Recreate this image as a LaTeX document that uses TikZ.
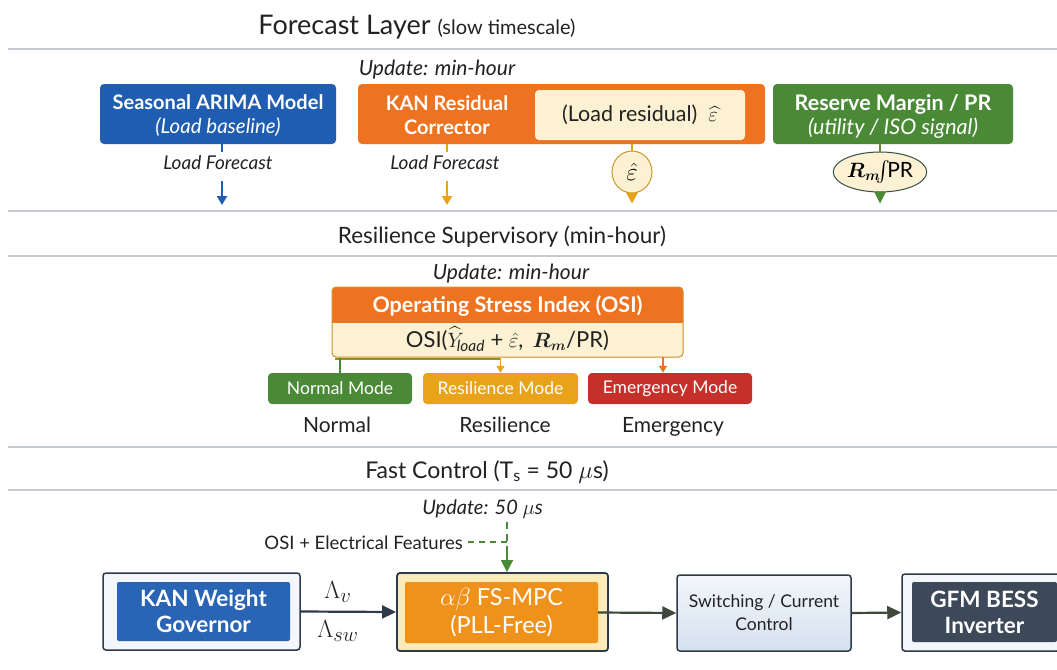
\documentclass[tikz,border=0pt]{standalone}
\usepackage{amsmath}
\usepackage{bm}
\usepackage{fontspec}
\setmainfont{Lato}
\usetikzlibrary{arrows.meta,shapes.geometric,calc}
\definecolor{lineC}{HTML}{C5CAD0}
\definecolor{blueC}{HTML}{1F5DB0}
\definecolor{blueA}{HTML}{2A64B4}
\definecolor{orangeC}{HTML}{EE7320}
\definecolor{greenC}{HTML}{4A8A36}
\definecolor{creamC}{HTML}{FCF1D2}
\definecolor{yellowC}{HTML}{E8A31A}
\definecolor{redC}{HTML}{C6302A}
\definecolor{slateC}{HTML}{3D4858}
\definecolor{darkC}{HTML}{2E3A4A}
\definecolor{mpcC}{HTML}{EE921C}
\definecolor{paleY}{HTML}{FAEBB8}
\definecolor{paleB}{HTML}{F3F6FA}
\definecolor{paleB2}{HTML}{D5E1EF}
\definecolor{ptrY}{HTML}{C99A2C}
\definecolor{txtC}{HTML}{222222}
\tikzset{
  sepline/.style={draw=lineC, line width=1.8pt},
  blk/.style={rounded corners=4pt, inner sep=0pt, align=center, text=white},
  hd/.style={text=txtC, inner sep=0pt, anchor=base},
  bx/.style={text=white, inner sep=0pt, align=center},
  lbl/.style={text=txtC, inner sep=0pt, anchor=base},
  tip/.style={-{Triangle[width=10pt,length=9pt]}, line width=2pt},
  bigtip/.style={-{Triangle[width=13pt,length=14pt]}, line width=2.2pt, draw=darkC},
}
\begin{document}
\begin{tikzpicture}[x=1pt,y=-1pt]
\useasboundingbox (0,0) rectangle (1057,669);
\fill[white] (0,0) rectangle (1057,669);

% ---------------- Forecast layer
\node[hd] (t1) at (417,35) {\fontsize{27}{30}\selectfont Forecast Layer\ \fontsize{20}{22}\selectfont(slow timescale)};
\coordinate (l1a) at (8,49); \coordinate (l1b) at (1057,49);
\draw[sepline] (l1a) -- (l1b);
\node[lbl, font=\itshape\fontsize{21}{22}\selectfont] (u1) at (437,75) {Update: min-hour};

\node[blk, fill=blueC, minimum width=236pt, minimum height=60pt] (arima) at (218,114) {};
\node[bx, font=\fontsize{20}{24}\selectfont] (arimat) at (218,116) {{\bfseries Seasonal ARIMA Model}\\{\itshape\fontsize{20.5}{24}\selectfont (Load baseline)}};

\node[blk, fill=orangeC, minimum width=407pt, minimum height=60pt] (kan) at (561.5,114) {};
\node[bx, font=\bfseries\fontsize{20}{24}\selectfont] (kant) at (447,115) {KAN Residual\\Corrector};
\node[blk, fill=creamC, minimum width=210pt, minimum height=50pt, text=txtC] (res) at (640,115) {\fontsize{21.5}{24}\selectfont (Load residual)\ \ $\widehat{\varepsilon}$};

\node[blk, fill=greenC, minimum width=240pt, minimum height=60pt] (rm) at (893,114) {};
\node[bx, font=\fontsize{21.5}{24}\selectfont] (rmt) at (893,116) {{\bfseries Reserve Margin / PR}\\{\itshape\fontsize{21.5}{24}\selectfont (utility / ISO signal)}};

% Load forecast outputs
\node[lbl, font=\itshape\fontsize{19}{20}\selectfont] (lf1) at (218,169) {Load Forecast};
\node[lbl, font=\itshape\fontsize{19}{20}\selectfont] (lf2) at (445,169) {Load Forecast};
\draw[blueC, line width=1.8pt] ($(arima.south)+(4,0)$) -- ($(arima.south)+(4,8)$);
\coordinate (a1s) at (222,181); \coordinate (a1e) at (222,205);
\draw[tip, blueC] (a1s) -- (a1e);
\coordinate (k1) at (447,144); \coordinate (k2) at (447,152);
\draw[yellowC, line width=1.8pt] (k1) -- (k2);
\coordinate (a2s) at (447,181); \coordinate (a2e) at (447,205);
\draw[tip, yellowC] (a2s) -- (a2e);

% epsilon pointer
\node[ellipse, draw=ptrY, line width=1pt, fill=creamC, minimum width=40pt, minimum height=42pt, inner sep=0pt] (ep) at (632,172) {\fontsize{26}{28}\selectfont$\hat{\varepsilon}$};
\draw[yellowC, line width=1.8pt] (kan.south -| ep) -- (ep.north);
\fill[yellowC] ($(ep.south)+(-6,-1)$) -- ($(ep.south)+(6,-1)$) -- ($(ep.south)+(0,10)$) -- cycle;

% Rm pointer
\node[ellipse, draw=darkC!70!greenC, line width=1pt, fill=creamC, minimum width=86pt, minimum height=40pt, inner sep=0pt] (rp) at (880,172) {\fontsize{21}{22}\selectfont$\bm{R_m}\!\!\int\!$PR};
\draw[greenC!80!yellowC, line width=1.8pt] (rm.south -| rp) -- (rp.north);
\fill[greenC] ($(rp.south)+(-6,-1)$) -- ($(rp.south)+(6,-1)$) -- ($(rp.south)+(0,11)$) -- cycle;

\coordinate (l2a) at (8,211); \coordinate (l2b) at (1057,211);
\draw[sepline] (l2a) -- (l2b);

% ---------------- Resilience supervisory
\node[hd, font=\fontsize{22.5}{24}\selectfont] (t2) at (502,243) {Resilience Supervisory (min-hour)};
\coordinate (l3a) at (8,256); \coordinate (l3b) at (1057,256);
\draw[sepline] (l3a) -- (l3b);
\node[lbl, font=\itshape\fontsize{21}{22}\selectfont] (u2) at (511,279) {Update: min-hour};

\fill[orangeC, rounded corners=4pt] (332,287) rectangle (683,357);
\fill[creamC, rounded corners=4pt] (332,323) rectangle (683,357);
\fill[creamC] (332,323) rectangle (683,330);
\node[draw=ptrY!80!orangeC, line width=1pt, rounded corners=4pt, minimum width=351pt, minimum height=70pt, inner sep=0pt] (osi) at (507.5,322) {};
\node[bx, font=\bfseries\fontsize{21.5}{24}\selectfont] (osit) at (507.5,306) {Operating Stress Index (OSI)};
\node[lbl, font=\fontsize{22}{24}\selectfont] (osif) at (507.5,347) {OSI($\widehat{Y}_{\!\mathit{load}}$ + $\hat{\varepsilon}$,\, $\bm{R_m}$/PR)};
\coordinate (g1) at (335,359); \coordinate (g2) at (500,359);
\draw[greenC!60!yellowC, line width=2pt] (g1) -- (g2);

\node[blk, fill=greenC, minimum width=144pt, minimum height=31pt, font=\fontsize{17.5}{20}\selectfont] (nm) at (340,388.5) {Normal Mode};
\node[blk, fill=yellowC, minimum width=155pt, minimum height=31pt, font=\fontsize{17.5}{20}\selectfont] (rsm) at (500.5,388.5) {Resilience Mode};
\node[blk, fill=redC, minimum width=164pt, minimum height=31pt, font=\fontsize{17.5}{20}\selectfont] (em) at (670,388.5) {Emergency Mode};
\draw[greenC, line width=1.3pt] (osi.south -| nm) -- (nm.north);
\draw[-{Triangle[width=8pt,length=7pt]}, line width=1.5pt, yellowC] (osi.south -| rsm) -- (rsm.north);
\coordinate (eA) at (663,357);
\draw[-{Triangle[width=8pt,length=7pt]}, line width=1.5pt, orangeC] (eA) -- (em.north -| eA);

\node[lbl, font=\fontsize{21}{22}\selectfont] (nl) at (337,432) {Normal};
\node[lbl, font=\fontsize{21}{22}\selectfont] (rl) at (505,432) {Resilience};
\node[lbl, font=\fontsize{21}{22}\selectfont] (el) at (673,432) {Emergency};

\coordinate (l4a) at (8,447); \coordinate (l4b) at (1057,447);
\draw[sepline] (l4a) -- (l4b);

% ---------------- Fast control
\node[hd, font=\fontsize{23}{24}\selectfont] (t3) at (487,478) {Fast Control (T\textsubscript{s} = 50 $\mu$s)};
\coordinate (l5a) at (8,490); \coordinate (l5b) at (1057,490);
\draw[sepline] (l5a) -- (l5b);
\node[lbl, font=\itshape\fontsize{20}{22}\selectfont, anchor=base east] (u3) at (543,514) {Update: 50 $\mu$s};

% blocks
\node[draw=darkC, line width=1.5pt, fill=paleB, rounded corners=3pt, minimum width=197pt, minimum height=77pt, inner sep=0pt] (kwo) at (201.5,611.5) {};
\node[blk, fill=blueA, rounded corners=2pt, minimum width=173pt, minimum height=59pt, font=\bfseries\fontsize{22.5}{26}\selectfont] (kw) at (203.5,611.5) {KAN Weight\\Governor};

\node[draw=darkC, line width=1.8pt, fill=paleY, rounded corners=3pt, minimum width=211pt, minimum height=78pt, inner sep=0pt] (mpco) at (502.5,612) {};
\node[blk, fill=mpcC, rounded corners=2pt, minimum width=193pt, minimum height=61pt, font=\fontsize{23.5}{28}\selectfont] (mpc) at (501.5,612.5) {$\alpha\beta$ FS-MPC\\(PLL-Free)};

\node[draw=darkC, line width=1.5pt, top color=paleB, bottom color=paleB2, rounded corners=3pt, minimum width=174pt, minimum height=76pt, inner sep=0pt, align=center, text=txtC, font=\fontsize{17.5}{23}\selectfont] (sw) at (764,613) {Switching / Current\\Control};

\node[draw=darkC, line width=1.5pt, fill=paleB, rounded corners=3pt, minimum width=158pt, minimum height=77pt, inner sep=0pt] (gfmo) at (981,612.5) {};
\node[blk, fill=slateC, rounded corners=2pt, minimum width=145pt, minimum height=60pt, font=\bfseries\fontsize{22.5}{26}\selectfont] (gfm) at (984.5,612) {GFM BESS\\Inverter};

% OSI + features dashed feed
\node[lbl, font=\fontsize{18.5}{20}\selectfont, anchor=base east] (feat) at (463,549) {OSI + Electrical Features};
\coordinate (fj) at (507,542);
\coordinate (ftop) at (507,522);
\coordinate (fmid) at (507,552);
\draw[greenC, line width=1.6pt, dash pattern=on 6pt off 5pt] (feat.east |- fj) ++(5,0) -- (fj);
\draw[greenC, line width=1.6pt, dash pattern=on 7pt off 5pt] (ftop) -- (fmid);
\draw[greenC, line width=1.6pt, -{Triangle[width=12pt,length=12pt]}] (fmid) -- (mpco.north -| fmid);

% connectors
\draw[bigtip] (kwo.east) -- (mpco.west);
\node[font=\fontsize{28}{30}\selectfont, inner sep=0pt, text=txtC] (lv) at (338,592) {$\Lambda_v$};
\node[font=\fontsize{28}{30}\selectfont, inner sep=0pt, text=txtC] (lsw) at (338,631) {$\Lambda_{sw}$};
\draw[bigtip, draw=darkC!80!olive] (mpc.east) -- (sw.west);
\draw[bigtip, draw=darkC!80!olive] (sw.east) -- (gfmo.west);
\end{tikzpicture}
\end{document}
